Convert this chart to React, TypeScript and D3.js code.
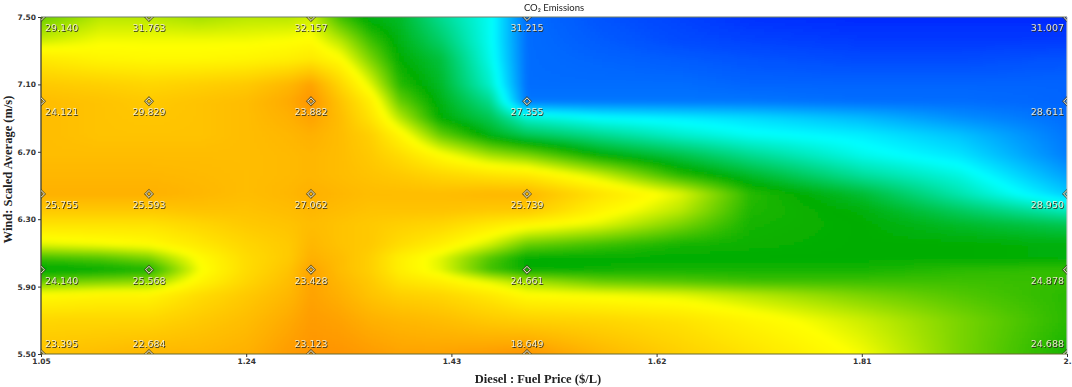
import { useEffect, useRef } from 'react'
import * as d3 from 'd3'

// design points shown on the plot
const priceValues = [1.05, 1.15, 1.3, 1.5, 2.0]
const windValues = [7.5, 7.0, 6.45, 6.0, 5.5]
const emissionLabels = [
  ['29.140', '31.763', '32.157', '31.215', '31.007'],
  ['24.121', '29.829', '23.882', '27.355', '28.611'],
  ['25.755', '25.593', '27.062', '25.739', '28.950'],
  ['24.140', '25.568', '23.428', '24.661', '24.878'],
  ['23.395', '22.684', '23.123', '18.649', '24.688'],
]

const xTicks = [1.05, 1.24, 1.43, 1.62, 1.81, 2.0]
const yTicks = [5.5, 5.9, 6.3, 6.7, 7.1, 7.5]

// colour level (0 blue, 25 cyan, 50 green, 75 yellow, 100 orange)
const surfaceX = [1.05, 1.105, 1.15, 1.197, 1.24, 1.28, 1.3, 1.327, 1.355, 1.382, 1.42, 1.466, 1.5, 1.568, 1.642, 1.707, 1.81, 1.9, 2.0]
const surfaceY = [7.5, 7.36, 7.25, 7.1, 7.0, 6.9, 6.8, 6.68, 6.56, 6.45, 6.35, 6.27, 6.15, 6.07, 6.0, 5.93, 5.85, 5.7, 5.5]
const surface = [
  [60, 68, 68, 66, 68, 68, 70, 56, 48, 46, 36, 26, 8, 5, 3, 1, 0, 0, 0],
  [70, 74, 74, 74, 74, 75, 76, 68, 56, 48, 40, 26, 8, 6, 4, 3, 2, 2, 2],
  [82, 78, 77, 77, 78, 80, 82, 76, 62, 50, 44, 27, 8, 7, 6, 5, 4, 4, 5],
  [92, 90, 88, 90, 92, 98, 104, 88, 72, 54, 46, 30, 8, 8, 8, 7, 7, 7, 7],
  [96, 94, 92, 94, 96, 102, 108, 94, 80, 60, 48, 36, 9, 9, 9, 9, 8, 8, 7],
  [96, 94, 93, 94, 96, 100, 104, 96, 84, 68, 50, 42, 30, 25, 23, 21, 17, 12, 8],
  [96, 94, 94, 94, 96, 98, 100, 96, 90, 78, 60, 48, 42, 36, 30, 26, 23, 18, 9],
  [96, 96, 96, 96, 96, 97, 98, 96, 92, 86, 76, 66, 62, 50, 43, 36, 27, 22, 10],
  [98, 98, 98, 97, 96, 97, 98, 96, 94, 92, 88, 84, 82, 70, 54, 46, 35, 28, 14],
  [100, 100, 100, 98, 96, 98, 100, 98, 96, 96, 96, 98, 98, 84, 72, 54, 45, 33, 19],
  [92, 92, 92, 94, 94, 96, 98, 96, 94, 94, 94, 92, 92, 78, 68, 53, 49, 41, 32],
  [84, 84, 84, 88, 92, 94, 96, 94, 92, 90, 88, 82, 78, 72, 62, 52, 50, 46, 42],
  [72, 74, 76, 82, 88, 92, 98, 94, 92, 86, 80, 70, 60, 56, 52, 51, 50, 50, 49],
  [56, 58, 62, 76, 86, 92, 100, 96, 90, 80, 72, 58, 50, 50, 50, 50, 50, 50, 49],
  [48, 50, 52, 74, 86, 94, 104, 96, 90, 80, 72, 56, 50, 51, 52, 52, 52, 54, 55],
  [60, 62, 64, 78, 88, 96, 104, 98, 92, 84, 80, 72, 66, 60, 58, 56, 56, 56, 55],
  [76, 78, 78, 86, 92, 98, 104, 100, 94, 90, 88, 82, 76, 74, 72, 68, 62, 58, 54],
  [88, 88, 88, 92, 96, 102, 106, 104, 100, 98, 96, 92, 90, 88, 84, 78, 70, 62, 54],
  [94, 96, 98, 98, 100, 106, 108, 108, 106, 104, 104, 106, 108, 98, 90, 84, 74, 62, 52],
]

const levelStops = [0, 25, 50, 75, 100, 115]
const levelColors = ['#0028ff', '#00ffff', '#00ad00', '#ffff00', '#ffb000', '#ff7c00']

const width = 1072
const height = 387
const left = 41
const right = 1067
const top = 17
const bottom = 354
const cell = 3

// piecewise linear lookup in the surface table
function levelAt(px: number, wind: number) {
  const xs = surfaceX
  const ys = surfaceY
  const i = Math.max(0, Math.min(xs.length - 2, d3.bisectRight(xs, px) - 1))
  let j = 0
  while (j < ys.length - 2 && ys[j + 1] > wind) j++
  const tx = Math.max(0, Math.min(1, (px - xs[i]) / (xs[i + 1] - xs[i])))
  const ty = Math.max(0, Math.min(1, (ys[j] - wind) / (ys[j] - ys[j + 1])))
  const a = surface[j][i] + (surface[j][i + 1] - surface[j][i]) * tx
  const b = surface[j + 1][i] + (surface[j + 1][i + 1] - surface[j + 1][i]) * tx
  return a + (b - a) * ty
}

function App() {
  const chartRef = useRef<SVGSVGElement>(null)

  useEffect(() => {
    const svg = d3.select(chartRef.current)
    svg.selectAll('*').remove()

    const x = d3.scaleLinear().domain([1.05, 2.0]).range([left, right])
    const y = d3.scaleLinear().domain([5.5, 7.5]).range([bottom, top])
    const color = d3.scaleLinear<string>().domain(levelStops).range(levelColors).clamp(true)

    const defs = svg.append('defs')
    defs.append('clipPath').attr('id', 'plot-clip')
      .append('rect')
      .attr('x', left).attr('y', top)
      .attr('width', right - left).attr('height', bottom - top)
    defs.append('filter').attr('id', 'soft')
      .attr('filterUnits', 'userSpaceOnUse')
      .attr('x', 0).attr('y', 0).attr('width', width).attr('height', height)
      .append('feGaussianBlur').attr('stdDeviation', 2.5)
    defs.append('filter').attr('id', 'label-blur')
      .attr('x', '-10%').attr('y', '-30%').attr('width', '120%').attr('height', '160%')
      .append('feGaussianBlur').attr('stdDeviation', 0.4)

    // Heat surface
    const cells: { px: number; py: number }[] = []
    for (let py = top - 12; py < bottom + 12; py += cell) {
      for (let px = left - 12; px < right + 12; px += cell) {
        cells.push({ px, py })
      }
    }
    svg.append('g').attr('clip-path', 'url(#plot-clip)')
      .append('g').attr('filter', 'url(#soft)')
      .attr('shape-rendering', 'crispEdges')
      .selectAll('rect')
      .data(cells)
      .join('rect')
      .attr('x', d => d.px)
      .attr('y', d => d.py)
      .attr('width', cell + 0.5)
      .attr('height', cell + 0.5)
      .attr('fill', d => color(levelAt(x.invert(d.px + cell / 2), y.invert(d.py + cell / 2))))

    // Frame
    const frame = svg.append('g').attr('fill', 'none')
    frame.append('line').attr('x1', left).attr('x2', right).attr('y1', top).attr('y2', top)
      .attr('stroke', '#6f7f6a').attr('stroke-width', 1.2)
    frame.append('line').attr('x1', left).attr('x2', right).attr('y1', bottom).attr('y2', bottom)
      .attr('stroke', '#6b6a30').attr('stroke-width', 1.2)
    frame.append('line').attr('x1', left).attr('x2', left).attr('y1', top).attr('y2', bottom)
      .attr('stroke', '#4a4a38').attr('stroke-width', 1.4)
    frame.append('line').attr('x1', right).attr('x2', right).attr('y1', top).attr('y2', bottom)
      .attr('stroke', '#c4c4c4').attr('stroke-width', 1.2)

    // Axes
    const xAxis = svg.append('g').attr('transform', `translate(0,${bottom})`)
      .call(d3.axisBottom(x).tickValues(xTicks).tickSize(3).tickPadding(2)
        .tickFormat(d => (+d === 2 ? '2.' : d3.format('.2f')(+d))))
    const yAxis = svg.append('g').attr('transform', `translate(${left},0)`)
      .call(d3.axisLeft(y).tickValues(yTicks).tickSize(3).tickPadding(2).tickFormat(d3.format('.2f') as any))
    ;[xAxis, yAxis].forEach(axis => {
      axis.select('.domain').remove()
      axis.selectAll('line').attr('stroke', '#333')
      axis.selectAll('text')
        .attr('fill', '#333')
        .style('font-family', '"DejaVu Sans", sans-serif')
        .style('font-size', '7.5px')
        .style('font-weight', 'bold')
    })

    // Design points
    const points = windValues.flatMap((wind, r) =>
      priceValues.map((price, c) => ({ wind, price, r, c, label: emissionLabels[r][c] })))

    const markers = svg.append('g').attr('clip-path', 'url(#plot-clip)').attr('filter', 'url(#label-blur)')
    const diamond = d3.symbol().type(d3.symbolDiamond2).size(30)
    markers.selectAll('path.outer')
      .data(points)
      .join('path')
      .attr('class', 'outer')
      .attr('transform', d => `translate(${x(d.price)},${y(d.wind)})`)
      .attr('d', diamond())
      .attr('fill', 'none')
      .attr('stroke', '#3c3c28')
      .attr('stroke-opacity', 0.75)
      .attr('stroke-width', 2.4)
    markers.selectAll('path.inner')
      .data(points)
      .join('path')
      .attr('class', 'inner')
      .attr('transform', d => `translate(${x(d.price)},${y(d.wind)})`)
      .attr('d', diamond())
      .attr('fill', 'none')
      .attr('stroke', '#f4f0d8')
      .attr('stroke-width', 1)

    // Labels under the points (above them on the bottom row)
    const labelX = (d: { c: number; price: number }) =>
      d.c === 0 ? x(d.price) + 4 : d.c === 4 ? x(d.price) - 3 : x(d.price)
    const labelY = (d: { wind: number; r: number }) =>
      d.r === 4 ? y(d.wind) - 7 : y(d.wind) + 14
    const anchor = (d: { c: number }) => (d.c === 0 ? 'start' : d.c === 4 ? 'end' : 'middle')

    const labels = svg.append('g')
      .style('font-family', '"DejaVu Sans", sans-serif')
      .style('font-size', '9.5px')
    labels.selectAll('text.shade')
      .data(points)
      .join('text')
      .attr('class', 'shade')
      .attr('x', d => labelX(d) + 0.8)
      .attr('y', d => labelY(d) + 0.8)
      .attr('text-anchor', anchor)
      .attr('fill', '#2c2c20')
      .attr('fill-opacity', 0.95)
      .attr('filter', 'url(#label-blur)')
      .text(d => d.label)
    labels.selectAll('text.face')
      .data(points)
      .join('text')
      .attr('class', 'face')
      .attr('x', labelX)
      .attr('y', labelY)
      .attr('text-anchor', anchor)
      .attr('fill', '#f6f2d8')
      .attr('fill-opacity', 0.9)
      .attr('filter', 'url(#label-blur)')
      .text(d => d.label)

    // Titles
    svg.append('text')
      .attr('x', 554).attr('y', 11)
      .attr('text-anchor', 'middle')
      .style('font-family', 'Lato, sans-serif')
      .style('font-size', '9.5px')
      .attr('fill', '#222')
      .text('CO₂ Emissions')

    svg.append('text')
      .attr('x', 538).attr('y', 383)
      .attr('text-anchor', 'middle')
      .style('font-family', '"Liberation Serif", serif')
      .style('font-size', '12.5px')
      .style('font-weight', 'bold')
      .attr('fill', '#222')
      .text('Diesel : Fuel Price ($/L)')

    svg.append('text')
      .attr('transform', `translate(12,${(top + bottom) / 2 - 16}) rotate(-90)`)
      .attr('text-anchor', 'middle')
      .style('font-family', '"Liberation Serif", serif')
      .style('font-size', '12.5px')
      .style('font-weight', 'bold')
      .attr('fill', '#222')
      .text('Wind: Scaled Average (m/s)')
  }, [])

  return (
    <svg
      ref={chartRef}
      width={width}
      height={height}
      style={{ position: 'absolute', left: 0, top: 0, display: 'block', background: '#fff' }}
    />
  )
}

export default App
